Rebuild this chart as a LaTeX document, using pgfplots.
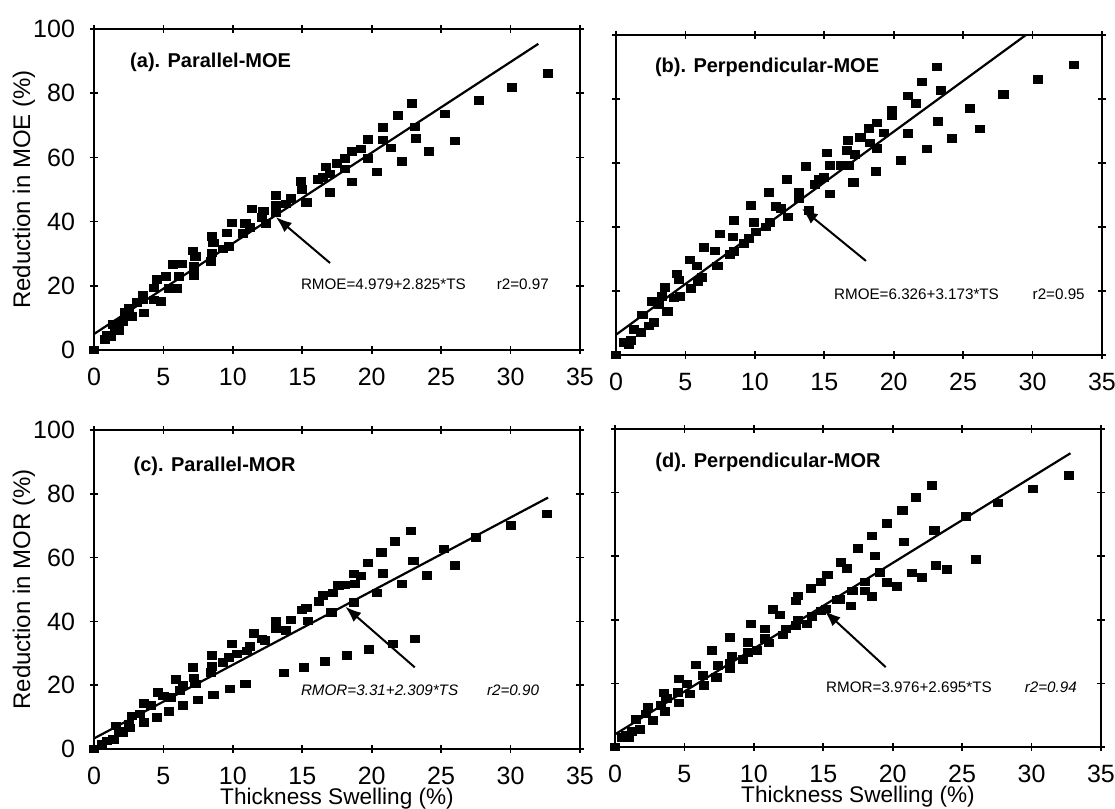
\documentclass[border=0pt]{standalone}
\usepackage{fontspec}
\setmainfont{Liberation Sans}
\usepackage{pgfplots}
\pgfplotsset{compat=1.18}
\usetikzlibrary{arrows.meta}
\pgfplotsset{
  panel/.style={
    scale only axis, width=243pt, height=160.5pt,
    xmin=0,xmax=35,ymin=0,ymax=100,
    xtick={0,5,...,35}, ytick={0,20,...,100},
    axis line style={line width=1.3pt},
    tick style={line width=0.8pt,black}, major tick length=4pt, tick align=center,
    tick label style={font=\fontsize{12.5}{15}\selectfont},
    /pgf/number format/assume math mode=true,
    xticklabel style={anchor=base, yshift=-16pt, inner sep=1pt},
    yticklabel style={xshift=-4pt},
    clip mode=individual,
    label style={font=\fontsize{12}{14}\selectfont},
    ylabel style={at={(axis description cs:-0.144,0.5)},anchor=center,rotate=0},
    xlabel style={at={(axis description cs:0.5,-0.1755)},anchor=base, inner sep=1pt, font=\fontsize{11.3}{13}\selectfont},
  },
  pts/.style={only marks, mark=square*, mark size=1.9pt, mark options={fill=black,draw=black,xscale=1.2}},
  fit/.style={no marks, black, line width=1.1pt},
}
\newcommand{\ttl}{\bfseries\fontsize{10}{12}\selectfont}
\newcommand{\eqf}{\fontsize{7.6}{9}\selectfont}
\begin{document}
\begin{tikzpicture}
\useasboundingbox (0,0) rectangle (557.5pt,404.5pt);
% (a)
\begin{axis}[panel, at={(47pt,229.5pt)}, anchor=south west, ylabel={Reduction in MOE (\%)}]
\addplot[pts] coordinates {
(0,0) (32.7,86.1) (30.1,81.8) (27.7,77.7) (25.3,73.6) (26.0,65.1) (22.9,76.9) (23.1,69.5) (23.2,66.0) (24.1,61.9)
(21.9,73.1) (20.8,69.3) (20.8,65.4) (21.4,62.9) (22.2,58.8) (20.4,55.5) (19.7,65.6) (19.7,59.6) (19.2,62.7) (18.6,61.9)
(18.1,59.6) (18.1,56.4) (18.6,52.4) (17.5,58.1) (16.7,57.0) (17.0,54.9) (16.5,53.7) (16.1,53.1) (17.0,49.1) (14.9,52.5)
(15.0,50.1) (15.3,46.0) (14.2,47.2) (13.8,45.5) (13.1,48.1) (13.1,45.0) (13.1,42.9) (12.2,43.3) (12.1,41.4) (12.4,39.4)
(11.4,44.0) (11.2,38.1) (10.9,39.4) (10.7,36.3) (9.9,39.6) (9.6,36.5) (9.7,32.2) (9.3,31.5) (8.5,35.3) (8.6,33.4)
(8.5,30.2) (8.4,27.6) (7.1,30.9) (7.3,29.1) (7.2,26.1) (7.2,23.3) (6.3,26.8) (5.7,26.6) (6.1,23.0) (6.0,19.2)
(5.4,19.2) (5.2,23.0) (4.5,22.0) (4.3,19.4) (4.8,15.1) (4.3,15.6) (3.5,17.2) (3.5,15.8) (3.6,11.5) (2.5,13.0)
(2.7,10.4) (2.1,9.0) (1.8,6.1) (1.4,7.9) (1.2,4.1) (0.8,3.3) (0.9,4.6) (1.5,6.1) (2.2,11.8) (3.1,14.8)
};
\addplot[fit] coordinates {(0,4.979) (32.0,95.38)};
\node[anchor=west,font=\ttl] at (axis cs:2.1,89.5) {(a). Parallel-MOE};
\node[anchor=west,font=\eqf] at (axis cs:14.4,20.4) {RMOE=4.979+2.825*TS};
\node[anchor=west,font=\eqf] at (axis cs:28.5,20.4) {r2=0.97};
\draw[line width=1pt,-{Latex[length=8pt,width=6pt]}] (axis cs:17.0,27.1) -- (axis cs:13.1,41.4);
\end{axis}
% (b)
\begin{axis}[panel, at={(308pt,227pt)}, anchor=south west, height=160pt, yticklabels={}]
\addplot[pts] coordinates {
(0,0) (33.0,90.7) (30.4,86.2) (27.9,81.5) (25.5,77.1) (26.2,70.7) (24.2,67.6) (23.1,90.0) (23.4,82.6) (23.2,73.0)
(22.4,64.4) (22.0,85.4) (21.0,81.0) (21.6,78.7) (21.0,69.2) (20.5,60.9) (19.9,76.6) (19.9,74.8) (19.3,69.4) (18.8,72.5)
(18.2,70.9) (18.3,66.3) (18.8,64.5) (18.7,57.3) (17.6,68.0) (17.2,62.7) (16.7,67.1) (16.6,64.0) (16.2,59.3) (16.8,59.3)
(17.1,53.9) (15.2,63.2) (15.4,59.3) (15.0,55.5) (15.4,50.3) (14.6,54.9) (14.3,53.4) (13.7,58.9) (13.2,50.8) (13.2,48.8)
(13.9,45.2) (12.3,54.9) (12.4,43.1) (11.9,45.9) (11.5,46.5) (11.0,50.8) (11.1,41.5) (10.8,40.0) (9.7,46.7) (9.9,41.5)
(10.1,38.5) (9.6,36.4) (9.2,34.8) (8.5,42.1) (8.4,36.9) (8.5,32.3) (8.2,31.5) (7.5,37.9) (7.3,27.8) (7.1,32.5)
(6.3,33.6) (6.2,24.2) (5.9,23.0) (5.8,27.8) (5.3,29.7) (5.4,20.9) (4.5,23.5) (4.4,25.3) (4.6,18.4) (4.2,17.8)
(3.5,21.1) (3.3,18.4) (3.7,13.7) (2.6,16.8) (2.7,10.1) (2.4,9.1) (1.9,12.5) (1.8,7.0) (1.3,8.0) (1.1,4.6)
(0.6,3.9) (0.9,3.4) (3.1,15.8)
};
\addplot[fit] coordinates {(0,6.326) (29.52,100)};
\node[anchor=west,font=\ttl] at (axis cs:2.3,90) {(b). Perpendicular-MOE};
\node[anchor=west,font=\eqf] at (axis cs:15.2,18.9) {RMOE=6.326+3.173*TS};
\node[anchor=west,font=\eqf] at (axis cs:29.5,18.9) {r2=0.95};
\draw[line width=1pt,-{Latex[length=8pt,width=6pt]}] (axis cs:18.0,29.4) -- (axis cs:13.4,45.7);
\end{axis}
% (c)
\begin{axis}[panel, at={(47pt,30pt)}, anchor=south west, height=159.5pt, ylabel={Reduction in MOR (\%)}, xlabel={Thickness Swelling (\%)}]
\addplot[pts] coordinates {
(0,0) (32.6,73.7) (30.0,70.0) (27.5,66.4) (25.2,62.7) (26.0,57.5) (24.0,54.5) (22.8,68.4) (23.0,59.0) (23.1,34.5)
(21.7,65.0) (22.2,51.7) (20.7,61.7) (20.8,55.1) (20.4,48.9) (19.7,58.3) (19.8,31.3) (21.5,32.9) (19.2,54.3) (18.7,54.9)
(18.8,51.7) (18.1,51.5) (18.7,46.0) (18.2,29.3) (17.6,51.2) (17.2,48.9) (17.1,42.8) (16.5,48.1) (16.2,46.2) (16.6,27.5)
(15.3,44.2) (15.0,43.6) (15.4,40.2) (15.1,25.6) (14.2,40.5) (13.8,37.1) (13.1,40.2) (13.1,37.6) (13.7,23.8) (12.3,34.0)
(12.1,34.5) (11.5,36.3) (11.2,32.1) (11.0,30.8) (10.9,20.4) (10.3,29.8) (9.9,32.9) (9.7,28.7) (9.3,27.2) (9.8,18.8)
(8.5,29.3) (8.5,25.8) (8.4,24.0) (8.6,17.0) (7.2,22.3) (7.3,20.4) (7.1,25.6) (7.5,15.4) (6.4,19.9) (5.9,21.9)
(6.2,18.3) (6.4,13.6) (5.5,16.2) (5.4,11.8) (5.0,16.7) (4.6,17.8) (4.5,9.9) (4.1,13.6) (3.6,14.3) (3.6,8.4)
(3.3,11.0) (2.7,10.4) (2.6,6.6) (2.5,7.8) (2.1,5.0) (1.6,7.3) (1.4,3.1) (0.9,2.6) (0.6,1.4) (1.8,5.7)
};
\addplot[fit] coordinates {(0,3.31) (32.7,78.81)};
\node[anchor=west,font=\ttl] at (axis cs:2.35,88.5) {(c). Parallel-MOR};
\node[anchor=west,font=\eqf\itshape] at (axis cs:14.4,18.3) {RMOR=3.31+2.309*TS};
\node[anchor=west,font=\eqf\itshape] at (axis cs:27.8,18.3) {r2=0.90};
\draw[line width=1pt,-{Latex[length=8pt,width=6pt]}] (axis cs:23.1,25.6) -- (axis cs:18.1,44.6);
\end{axis}
% (d)
\begin{axis}[panel, at={(307.5pt,31pt)}, anchor=south west, height=159pt, yticklabels={}, xlabel={Thickness Swelling (\%)}]
\addplot[pts] coordinates {
(0,0) (32.7,85.5) (30.1,81.2) (27.6,76.8) (25.3,72.6) (26.0,59.0) (23.9,55.9) (23.1,57.2) (23.0,68.2) (22.8,82.3)
(21.7,78.4) (22.1,53.3) (21.4,54.7) (20.7,74.4) (20.8,64.5) (20.3,50.5) (19.6,70.3) (19.6,51.7) (19.1,54.9) (18.7,60.1)
(18.5,66.4) (18.0,51.9) (17.98,49.1) (18.5,47.3) (17.5,62.4) (17.1,49.1) (17.0,44.4) (16.7,56.1) (16.3,58.0) (16.2,46.5)
(16.0,46.2) (15.3,54.1) (14.8,51.9) (14.1,49.9) (15.2,43.4) (14.8,42.8) (14.2,41.0) (13.8,38.7) (13.2,40.0) (13.2,47.5)
(13.0,46.0) (13.0,38.3) (12.3,37.1) (12.1,35.3) (11.9,41.5) (11.4,43.2) (10.8,37.1) (11.1,32.7) (10.8,34.2) (9.8,38.7)
(10.2,30.3) (9.6,32.9) (9.6,29.8) (9.2,27.5) (8.3,34.5) (8.4,28.7) (8.3,24.6) (8.3,26.4) (7.4,25.6) (7.3,21.9)
(7.0,30.3) (6.3,22.5) (6.4,19.3) (5.8,25.8) (5.4,16.7) (5.2,19.9) (4.6,21.4) (4.6,13.9) (4.5,17.2) (3.7,15.2)
(3.5,17.0) (3.6,11.2) (3.3,13.1) (2.7,8.4) (2.4,12.5) (2.2,10.4) (1.8,5.5) (1.5,8.7) (1.2,4.9) (0.8,3.7)
(0.5,3.1) (1.0,3.1)
};
\addplot[fit] coordinates {(0,3.976) (32.8,92.37)};
\node[anchor=west,font=\ttl] at (axis cs:2.4,89.5) {(d). Perpendicular-MOR};
\node[anchor=west,font=\eqf] at (axis cs:14.7,18.8) {RMOR=3.976+2.695*TS};
\node[anchor=west,font=\eqf\itshape] at (axis cs:29.0,18.8) {r2=0.94};
\draw[line width=1pt,-{Latex[length=8pt,width=6pt]}] (axis cs:19.5,25.1) -- (axis cs:15.1,42.8);
\end{axis}
\end{tikzpicture}
\end{document}
